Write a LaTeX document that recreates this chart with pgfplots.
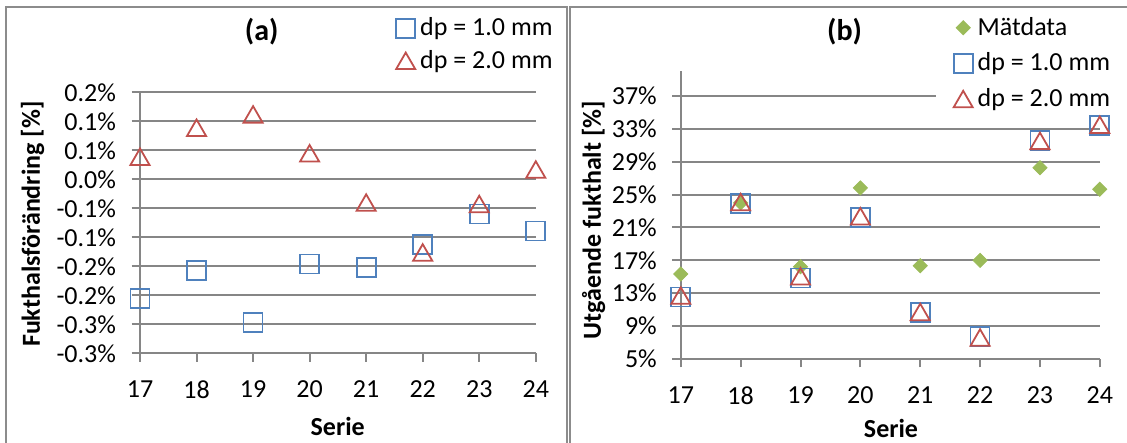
\documentclass[border=0pt]{standalone}
\usepackage{fontspec}
\setmainfont{Carlito}
\usepackage{pgfplots}
\pgfplotsset{compat=1.18}
\definecolor{xblue}{HTML}{4F81BD}
\definecolor{xred}{HTML}{C0504D}
\definecolor{xgreen}{HTML}{9BBB59}
\definecolor{xgrid}{HTML}{868686}
\definecolor{xframe}{HTML}{8C8C8C}
\pgfplotsset{
 excel/.style={
  scale only axis,
  axis lines=left,
  axis line style={-, draw=xgrid, line width=1pt},
  ymajorgrids,
  major grid style={draw=xgrid, line width=1pt},
  tick align=outside,
  major tick length=4.2pt,
  tick style={draw=xgrid, line width=1pt},
  xmin=17, xmax=24, xtick={17,18,19,20,21,22,23,24},
  /pgf/number format/assume math mode=true,
  ticklabel style={font=\fontsize{13}{15}\selectfont, text=black},
  yticklabel style={anchor=east, inner sep=0pt, xshift=-7.6pt},
  xticklabel style={anchor=north, inner sep=0pt, yshift=-9.5pt},
  label style={font=\bfseries\fontsize{13}{15}\selectfont, inner sep=0pt, anchor=center},
  title style={font=\bfseries\fontsize{15}{17}\selectfont, inner sep=0pt, anchor=center, yshift=-6pt},
  legend cell align=left,
  legend style={draw=none, fill=white, font=\fontsize{13}{15}\selectfont,
    anchor=north west, inner ysep=0pt, column sep=2.5pt,
    nodes={inner sep=0pt}},
  legend image code/.code={\draw[#1] plot coordinates {(0pt,0pt)};},
  clip=false,
 },
 sq/.style={only marks, mark=square, mark size=4.75pt, mark options={draw=xblue, line width=0.9pt, fill=none}},
 tri/.style={only marks, mark=triangle, mark size=5.5pt, mark options={draw=xred, line width=0.9pt, fill=none, yshift=-1.4pt}},
 dia/.style={only marks, mark=square*, mark size=2.5pt, mark options={draw=xgreen, fill=xgreen, rotate=45}},
}
\begin{document}
\begin{tikzpicture}
\path[use as bounding box] (0,0) rectangle (563.5pt,221.5pt);
\clip (0,0) rectangle (563.5pt,221.5pt);
% frames
\draw[xframe, line width=1pt] (3pt,-5pt) -- (3pt,218pt) -- (283.25pt,218pt) -- (283.25pt,-5pt);
\draw[xframe, line width=1pt] (285pt,-5pt) -- (285pt,218pt) -- (580pt,218pt);

% panel (a)
\begin{axis}[excel,
  at={(70pt,44.85pt)}, anchor=south west,
  width=197.9pt, height=130.5pt,
  ymin=-0.30, ymax=0.15,
  ytick={-0.30,-0.25,-0.20,-0.15,-0.10,-0.05,0,0.05,0.10,0.15},
  yticklabels={-0.3\%,-0.3\%,-0.2\%,-0.2\%,-0.1\%,-0.1\%,0.0\%,0.1\%,0.1\%,0.2\%},
  xlabel={Serie}, ylabel={Fukthalsförändring [\%]},
  xlabel style={at={(axis description cs:0.4995,-0.282)}},
  ylabel style={at={(axis description cs:-0.2711,0.4946)}},
  title={(a)}, title style={at={(axis description cs:0.3075,1.231)}},
  legend style={at={(axis description cs:0.6463,1.2878)}, inner xsep=0pt, row sep=5.8pt},
]
\addplot[sq] coordinates {(17,-0.205) (18,-0.157) (19,-0.247) (20,-0.146) (21,-0.152) (22,-0.113) (23,-0.060) (24,-0.089)};
\addlegendentry{dp = 1.0 mm}
\addplot[tri] coordinates {(17,0.039) (18,0.089) (19,0.112) (20,0.045) (21,-0.040) (22,-0.126) (23,-0.0425) (24,0.017)};
\addlegendentry{dp = 2.0 mm}
\end{axis}

% panel (b)
\begin{axis}[excel,
  at={(340.4pt,42pt)}, anchor=south west,
  width=209.5pt, height=143.85pt,
  ymin=5, ymax=40,
  ytick={5,9,13,17,21,25,29,33,37},
  yticklabels={5\%,9\%,13\%,17\%,21\%,25\%,29\%,33\%,37\%},
  xlabel={Serie}, ylabel={Utgående fukthalt [\%]},
  xlabel style={at={(axis description cs:0.5017,-0.24)}},
  ylabel style={at={(axis description cs:-0.2079,0.483)}},
  title={(b)}, title style={at={(axis description cs:0.391,1.1366)}},
  legend style={at={(axis description cs:0.609,1.1895)}, inner xsep=8.65pt, row sep=7.3pt},
]
\addplot[dia] coordinates {(17,15.34) (18,23.99) (19,16.23) (20,25.81) (21,16.35) (22,17.0) (23,28.27) (24,25.65)};
\addlegendentry{Mätdata}
\addplot[sq] coordinates {(17,12.55) (18,23.9) (19,14.86) (20,22.26) (21,10.65) (22,7.70) (23,31.54) (24,33.45)};
\addlegendentry{dp = 1.0 mm}
\addplot[tri] coordinates {(17,12.72) (18,24.1) (19,15.07) (20,22.37) (21,10.73) (22,7.62) (23,31.54) (24,33.5)};
\addlegendentry{dp = 2.0 mm}
\end{axis}
\end{tikzpicture}
\end{document}
